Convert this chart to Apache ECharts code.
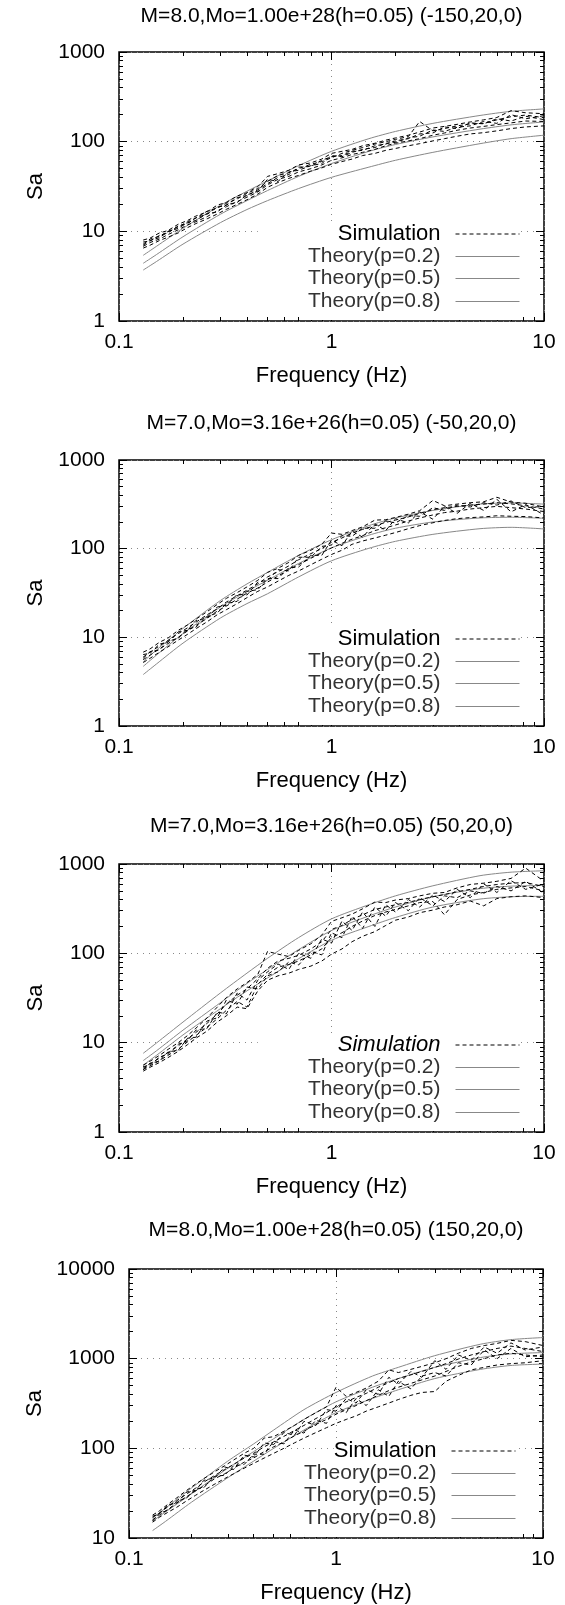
<!DOCTYPE html>
<html><head><meta charset="utf-8">
<script src="https://cdn.jsdelivr.net/npm/echarts@6/dist/echarts.min.js"></script>
<style>html,body{margin:0;padding:0;background:#fff}#c{width:565px;height:1605px}</style>
</head><body><div id="c"></div>
<script>
// ---------- text / ticks ----------
const panelTitles = [
  'M=8.0,Mo=1.00e+28(h=0.05) (-150,20,0)',
  'M=7.0,Mo=3.16e+26(h=0.05) (-50,20,0)',
  'M=7.0,Mo=3.16e+26(h=0.05) (50,20,0)',
  'M=8.0,Mo=1.00e+28(h=0.05) (150,20,0)'
];
const xAxisTitle = 'Frequency (Hz)';
const yAxisTitle = 'Sa';
const legendNames = ['Simulation', 'Theory(p=0.2)', 'Theory(p=0.5)', 'Theory(p=0.8)'];
const xTickValues = [0.1, 1, 10];
const xTickLabels = ['0.1', '1', '10'];
const xMinorTicks = [0.2,0.3,0.4,0.5,0.6,0.7,0.8,0.9,2,3,4,5,6,7,8,9];
const yTickValuesA = [1, 10, 100, 1000];
const yTickLabelsA = ['1', '10', '100', '1000'];
const yMinorTicksA = [2,3,4,5,6,7,8,9,20,30,40,50,60,70,80,90,200,300,400,500,600,700,800,900];
const yTickValuesB = [10, 100, 1000, 10000];
const yTickLabelsB = ['10', '100', '1000', '10000'];
const yMinorTicksB = [20,30,40,50,60,70,80,90,200,300,400,500,600,700,800,900,2000,3000,4000,5000,6000,7000,8000,9000];

// ---------- data ----------
const theoryFreq = [0.13, 0.15, 0.2, 0.3, 0.4, 0.5, 0.7, 1, 1.5, 2, 3, 5, 7, 10];
const simFreq = [0.13,0.14,0.155,0.17,0.19,0.21,0.23,0.26,0.29,0.32,0.36,0.4,0.45,0.5,0.56,0.63,0.7,0.8,0.9,1.0,1.12,1.25,1.4,1.6,1.8,2.0,2.3,2.6,3.0,3.4,3.9,4.5,5.2,6.0,7.0,8.2,10];

const p1TheoryP02 = [5.4, 6.8, 10.8, 19.5, 28, 36.5, 54, 78, 108, 130, 160, 196, 218, 232];
const p1TheoryP05 = [4.4, 5.5, 8.7, 15.5, 22, 28.5, 41, 57, 78, 93, 113, 138, 154, 166];
const p1TheoryP08 = [3.7, 4.6, 7.2, 12.5, 17.5, 22, 30, 40, 52, 62, 76, 95, 108, 118];
const p1Sim1 = [8.0,8.4,9.6,10.2,12.0,13.2,14.8,16.5,19.6,21.0,24.8,27.0,31.5,41.0,44.0,48.0,55.0,58.0,64.0,74.0,78.0,82.0,90.0,96.0,104.0,110.0,118.0,128.0,142.0,148.0,156.0,166.0,175.0,186.0,222.0,210.0,205.0];
const p1Sim2 = [7.2,8.2,8.8,10.0,11.2,12.8,14.0,16.8,18.2,20.5,23.0,26.5,30.0,36.0,42.0,45.0,50.0,56.0,60.0,66.0,74.0,80.0,86.0,94.0,100.0,106.0,114.0,168.0,132.0,140.0,150.0,158.0,160.0,175.0,190.0,198.0,185.0];
const p1Sim3 = [6.8,7.5,8.2,9.2,10.4,11.8,12.8,14.6,17.0,18.8,21.5,24.0,27.5,33.0,38.0,41.0,46.0,50.0,55.0,62.0,66.0,72.0,76.0,82.0,90.0,96.0,102.0,108.0,118.0,125.0,134.0,142.0,148.0,155.0,162.0,170.0,168.0];
const p1Sim4 = [6.5,7.0,7.9,8.6,9.6,11.0,12.2,13.8,15.6,17.6,20.0,22.5,26.0,31.0,35.0,39.0,42.0,47.0,51.0,56.0,60.0,64.0,70.0,74.0,80.0,84.0,90.0,95.0,102.0,108.0,115.0,122.0,126.0,132.0,140.0,146.0,150.0];
const p1Sim5 = [7.6,7.8,9.0,9.6,11.5,12.2,14.2,15.5,18.6,19.5,23.8,25.0,29.0,34.0,40.0,43.0,52.0,53.0,62.0,68.0,70.0,78.0,80.0,90.0,94.0,102.0,108.0,122.0,125.0,146.0,140.0,162.0,158.0,180.0,170.0,192.0,176.0];
const p1Sim6 = [7.0,7.9,8.5,9.9,10.8,12.5,13.2,15.8,16.4,19.8,21.0,25.5,28.0,38.0,36.0,46.0,48.0,54.0,57.0,70.0,68.0,76.0,82.0,86.0,96.0,98.0,110.0,115.0,135.0,130.0,145.0,150.0,168.0,160.0,200.0,180.0,195.0];

const p2TheoryP02 = [5.3, 7.2, 12.6, 26, 40, 54, 84, 126, 182, 222, 270, 318, 328, 318];
const p2TheoryP05 = [4.7, 6.3, 11, 22, 33, 44, 68, 102, 142, 170, 200, 222, 226, 220];
const p2TheoryP08 = [3.8, 5.0, 8.6, 16.5, 24, 31, 48, 73, 101, 121, 145, 168, 174, 167];
const p2Sim1 = [6.8,7.4,8.8,9.8,12.0,13.8,16.0,19.5,23.5,27.5,32.0,37.0,44.0,54.0,60.0,70.0,84.0,96.0,112.0,150.0,145.0,160.0,176.0,210.0,212.0,225.0,245.0,268.0,350.0,305.0,318.0,330.0,338.0,380.0,335.0,325.0,295.0];
const p2Sim2 = [6.0,6.8,8.0,9.2,11.0,12.8,14.8,18.0,21.0,25.0,29.5,34.0,40.0,48.0,55.0,64.0,75.0,88.0,100.0,118.0,132.0,150.0,165.0,182.0,198.0,210.0,228.0,250.0,275.0,290.0,300.0,310.0,318.0,330.0,320.0,305.0,280.0];
const p2Sim3 = [5.6,6.3,7.4,8.5,10.0,11.8,13.6,16.4,19.8,22.5,27.0,31.5,36.0,42.0,49.0,58.0,66.0,78.0,90.0,102.0,115.0,128.0,140.0,160.0,172.0,185.0,205.0,222.0,240.0,255.0,265.0,280.0,290.0,300.0,290.0,280.0,262.0];
const p2Sim4 = [5.2,5.8,6.8,7.8,9.3,10.8,12.5,15.0,18.0,20.5,24.0,28.0,33.0,37.0,43.0,50.0,56.0,66.0,76.0,86.0,96.0,112.0,122.0,132.0,142.0,152.0,168.0,182.0,196.0,208.0,218.0,224.0,228.0,235.0,232.0,230.0,222.0];
const p2Sim5 = [6.4,6.6,8.4,8.8,11.5,12.0,15.5,16.5,22.0,23.0,30.5,30.0,42.0,44.0,58.0,56.0,80.0,80.0,106.0,110.0,140.0,138.0,170.0,170.0,205.0,195.0,236.0,232.0,290.0,270.0,310.0,295.0,330.0,310.0,345.0,290.0,300.0];
const p2Sim6 = [5.8,6.9,7.2,9.0,9.8,12.4,13.0,17.2,18.8,24.0,25.5,33.0,34.5,46.0,46.0,61.0,62.0,84.0,84.0,125.0,108.0,158.0,135.0,190.0,160.0,218.0,195.0,260.0,215.0,300.0,250.0,325.0,270.0,360.0,260.0,315.0,240.0];

const p3TheoryP02 = [7.6, 9.9, 17, 36, 60, 88, 150, 243, 350, 440, 570, 740, 810, 840];
const p3TheoryP05 = [6.3, 8.1, 13.8, 28, 46, 66, 110, 180, 262, 330, 430, 530, 565, 575];
const p3TheoryP08 = [5.6, 7.2, 12.2, 24, 38, 53, 87, 140, 200, 252, 330, 405, 430, 435];
const p3Sim1 = [5.6,6.2,7.2,8.4,10.0,12.0,14.5,19.0,25.0,32.0,40.0,47.0,58.0,105.0,98.0,92.0,108.0,128.0,160.0,228.0,250.0,275.0,315.0,375.0,370.0,395.0,410.0,440.0,470.0,480.0,540.0,590.0,610.0,640.0,690.0,900.0,640.0];
const p3Sim2 = [5.2,5.8,6.7,7.7,9.2,11.0,13.0,16.5,21.0,27.0,34.0,40.0,52.0,68.0,82.0,88.0,95.0,112.0,135.0,185.0,205.0,240.0,270.0,310.0,330.0,350.0,372.0,400.0,430.0,455.0,490.0,520.0,560.0,590.0,610.0,620.0,560.0];
const p3Sim3 = [5.0,5.5,6.3,7.2,8.5,10.2,12.0,15.0,18.5,23.0,29.0,25.0,45.0,58.0,70.0,75.0,82.0,96.0,112.0,150.0,170.0,200.0,230.0,265.0,290.0,310.0,340.0,370.0,380.0,270.0,400.0,450.0,480.0,520.0,540.0,560.0,500.0];
const p3Sim4 = [4.8,5.3,6.0,6.8,8.0,9.5,11.2,13.5,17.0,20.0,25.0,24.0,38.0,50.0,56.0,60.0,66.0,72.0,82.0,98.0,112.0,135.0,155.0,175.0,205.0,235.0,255.0,285.0,305.0,330.0,350.0,385.0,340.0,410.0,430.0,440.0,420.0];
const p3Sim5 = [5.4,5.6,6.9,7.4,9.6,10.5,13.8,14.5,22.0,21.0,36.0,30.0,50.0,62.0,76.0,66.0,100.0,88.0,145.0,130.0,230.0,180.0,290.0,200.0,350.0,290.0,400.0,330.0,450.0,380.0,520.0,420.0,600.0,480.0,650.0,520.0,600.0];
const p3Sim6 = [5.0,5.9,6.2,7.9,8.2,11.2,11.5,17.5,19.0,30.0,27.0,42.0,40.0,56.0,62.0,80.0,74.0,105.0,96.0,170.0,150.0,260.0,190.0,330.0,260.0,370.0,300.0,420.0,340.0,440.0,420.0,500.0,470.0,560.0,500.0,640.0,470.0];

const p4TheoryP02 = [16.7, 21.5, 36, 72, 112, 160, 270, 420, 640, 800, 1080, 1450, 1630, 1720];
const p4TheoryP05 = [15.4, 19.5, 31, 60, 92, 128, 210, 330, 480, 600, 800, 1030, 1130, 1170];
const p4TheoryP08 = [12.1, 15.3, 25, 47, 72, 100, 160, 250, 360, 450, 600, 760, 840, 870];
const p4Sim1 = [18.0,20.0,24.0,28.0,34.0,40.0,46.0,55.0,64.0,74.0,88.0,100.0,130.0,135.0,155.0,180.0,210.0,250.0,290.0,480.0,380.0,420.0,470.0,560.0,750.0,700.0,760.0,820.0,900.0,1000.0,1150.0,1300.0,1400.0,1480.0,1600.0,1550.0,1400.0];
const p4Sim2 = [17.0,19.0,22.5,26.0,31.0,36.0,42.0,50.0,58.0,66.0,78.0,88.0,104.0,118.0,136.0,158.0,180.0,215.0,250.0,290.0,330.0,370.0,410.0,480.0,540.0,600.0,660.0,720.0,800.0,880.0,990.0,1100.0,1200.0,1300.0,1380.0,1300.0,1200.0];
const p4Sim3 = [16.0,18.0,21.0,24.5,29.0,33.5,38.0,46.0,52.0,60.0,70.0,78.0,92.0,104.0,118.0,138.0,155.0,185.0,210.0,240.0,270.0,300.0,340.0,390.0,440.0,480.0,530.0,580.0,640.0,720.0,820.0,920.0,1000.0,1100.0,1150.0,1100.0,1050.0];
const p4Sim4 = [15.0,17.0,19.5,22.0,26.0,30.0,34.0,40.0,46.0,52.0,60.0,68.0,78.0,88.0,100.0,115.0,130.0,150.0,170.0,190.0,210.0,230.0,260.0,290.0,320.0,350.0,390.0,420.0,430.0,560.0,650.0,750.0,800.0,850.0,880.0,900.0,950.0];
const p4Sim5 = [17.5,18.5,23.5,24.5,32.5,34.0,44.0,47.0,62.0,58.0,84.0,80.0,115.0,110.0,150.0,140.0,200.0,180.0,270.0,260.0,360.0,320.0,450.0,400.0,620.0,520.0,720.0,620.0,950.0,760.0,1100.0,960.0,1350.0,1150.0,1500.0,1250.0,1350.0];
const p4Sim6 = [15.5,18.8,20.5,25.5,28.0,35.0,36.5,49.0,50.0,64.0,66.0,86.0,86.0,120.0,112.0,160.0,148.0,205.0,190.0,300.0,250.0,360.0,300.0,450.0,380.0,560.0,460.0,640.0,700.0,640.0,900.0,850.0,1250.0,1000.0,1300.0,1050.0,1100.0];

// ---------- assembly ----------
const panels = [
  {sims:[p1Sim1,p1Sim2,p1Sim3,p1Sim4,p1Sim5,p1Sim6], theory:[p1TheoryP02,p1TheoryP05,p1TheoryP08], yv:yTickValuesA, yl:yTickLabelsA, ym:yMinorTicksA},
  {sims:[p2Sim1,p2Sim2,p2Sim3,p2Sim4,p2Sim5,p2Sim6], theory:[p2TheoryP02,p2TheoryP05,p2TheoryP08], yv:yTickValuesA, yl:yTickLabelsA, ym:yMinorTicksA},
  {sims:[p3Sim1,p3Sim2,p3Sim3,p3Sim4,p3Sim5,p3Sim6], theory:[p3TheoryP02,p3TheoryP05,p3TheoryP08], yv:yTickValuesA, yl:yTickLabelsA, ym:yMinorTicksA},
  {sims:[p4Sim1,p4Sim2,p4Sim3,p4Sim4,p4Sim5,p4Sim6], theory:[p4TheoryP02,p4TheoryP05,p4TheoryP08], yv:yTickValuesB, yl:yTickLabelsB, ym:yMinorTicksB}
];
const layout = [
  {left:119, top:52, width:425, height:269, titleY:18, iconRight:520, simItalic:false, simPad:80},
  {left:119, top:460, width:425, height:266, titleY:425, iconRight:520, simItalic:false, simPad:80},
  {left:119, top:864, width:425, height:268, titleY:828, iconRight:520, simItalic:true, simPad:80},
  {left:129, top:1269, width:414, height:269, titleY:1232, iconRight:516, simItalic:false, simPad:0}
];
const W = 565;
const FONT = '"Liberation Sans", Arial, Helvetica, sans-serif';
const rowOffsets = [-87, -64, -42, -19];

function lookup(values, labels) {
  return function (v) {
    for (let k = 0; k < values.length; k++) {
      if (Math.abs(Math.log10(v) - Math.log10(values[k])) < 1e-6) return labels[k];
    }
    return '';
  };
}

const option = {animation:false, backgroundColor:'#fff', title:[], grid:[], xAxis:[], yAxis:[], legend:[], series:[]};

panels.forEach(function (p, i) {
  const L = layout[i];
  option.grid.push({left:L.left, top:L.top, width:L.width, height:L.height, show:true, borderColor:'#000', borderWidth:1.5, backgroundColor:'transparent', containLabel:false});
  option.title.push({text:panelTitles[i], left:L.left + L.width/2, top:L.titleY - 12, textAlign:'center', padding:0,
    textStyle:{fontFamily:FONT, fontSize:21, fontWeight:'normal', color:'#000'}});
  const xMin = xTickValues[0], xMax = xTickValues[xTickValues.length-1];
  const yMin = p.yv[0], yMax = p.yv[p.yv.length-1];
  const base = {type:'log', logBase:10, gridIndex:i, axisLine:{show:false}, splitLine:{show:false}, axisLabel:{show:false}, axisTick:{show:false}};
  const tick = function (vals, len) { return {show:true, inside:true, length:len, customValues:vals, lineStyle:{color:'#000', width:1}}; };
  option.xAxis.push(Object.assign({}, base, {min:xMin, max:xMax, position:'bottom', axisTick:tick(xTickValues, 8),
    axisLabel:{show:true, customValues:xTickValues, formatter:lookup(xTickValues, xTickLabels), fontFamily:FONT, fontSize:21, color:'#000', margin:11},
    splitLine:{show:true, lineStyle:{color:'#888', width:1, type:[1,5]}},
    name:xAxisTitle, nameLocation:'middle', nameGap:44, nameTextStyle:{fontFamily:FONT, fontSize:22, color:'#000'}}));
  option.xAxis.push(Object.assign({}, base, {min:xMin, max:xMax, position:'bottom', axisTick:tick(xMinorTicks, 4)}));
  option.xAxis.push(Object.assign({}, base, {min:xMin, max:xMax, position:'top', axisTick:tick(xTickValues, 8)}));
  option.xAxis.push(Object.assign({}, base, {min:xMin, max:xMax, position:'top', axisTick:tick(xMinorTicks, 4)}));
  option.yAxis.push(Object.assign({}, base, {min:yMin, max:yMax, position:'left', axisTick:tick(p.yv, 8),
    axisLabel:{show:true, customValues:p.yv, formatter:lookup(p.yv, p.yl), fontFamily:FONT, fontSize:21, color:'#000', margin:14},
    splitLine:{show:true, lineStyle:{color:'#888', width:1, type:[1,5]}},
    name:yAxisTitle, nameLocation:'middle', nameGap:L.left - 47, nameRotate:90, nameTextStyle:{fontFamily:FONT, fontSize:22, color:'#000'}}));
  option.yAxis.push(Object.assign({}, base, {min:yMin, max:yMax, position:'left', axisTick:tick(p.ym, 4)}));
  option.yAxis.push(Object.assign({}, base, {min:yMin, max:yMax, position:'right', axisTick:tick(p.yv, 8)}));
  option.yAxis.push(Object.assign({}, base, {min:yMin, max:yMax, position:'right', axisTick:tick(p.ym, 4)}));

  p.sims.forEach(function (arr) {
    option.series.push({type:'line', name:legendNames[0], xAxisIndex:i*4, yAxisIndex:i*4, symbol:'none', showSymbol:false, silent:true, z:3,
      itemStyle:{color:'#000'},
      lineStyle:{color:'#000', width:1, type:[4,3]},
      data: simFreq.map(function (f, k) { return [f, arr[k]]; })});
  });
  p.theory.forEach(function (arr, k) {
    option.series.push({type:'line', name:legendNames[k+1], xAxisIndex:i*4, yAxisIndex:i*4, symbol:'none', showSymbol:false, silent:true, z:2, smooth:0.25,
      itemStyle:{color:'#888'},
      lineStyle:{color:'#888', width:1},
      data: theoryFreq.map(function (f, j) { return [f, arr[j]]; })});
  });

  const bottom = L.top + L.height;
  legendNames.forEach(function (nm, r) {
    const padTop = 1, padBottom = (r === 3) ? 8 : 1, padLeft = (r === 0) ? L.simPad : 0;
    option.legend.push({data:[nm], selectedMode:false, orient:'horizontal', align:'right',
      right: W - L.iconRight, top: bottom + rowOffsets[r] - 11 - padTop,
      itemWidth:64, itemHeight:10, itemGap:0, padding:[padTop, 0, padBottom, padLeft], backgroundColor:'#fff',
      itemStyle:{opacity:0, color:'rgba(0,0,0,0)', borderWidth:0},
      lineStyle:{width:1},
      textStyle:{fontFamily:FONT, fontSize: r === 0 ? 22 : 21, color: r === 0 ? '#000' : '#333',
        fontStyle: (r === 0 && L.simItalic) ? 'italic' : 'normal', padding:[0,10,0,0]}});
  });
});

const chart = echarts.init(document.getElementById('c'), null, {renderer:'canvas', width:565, height:1605});
chart.setOption(option);
</script>
</body></html>
